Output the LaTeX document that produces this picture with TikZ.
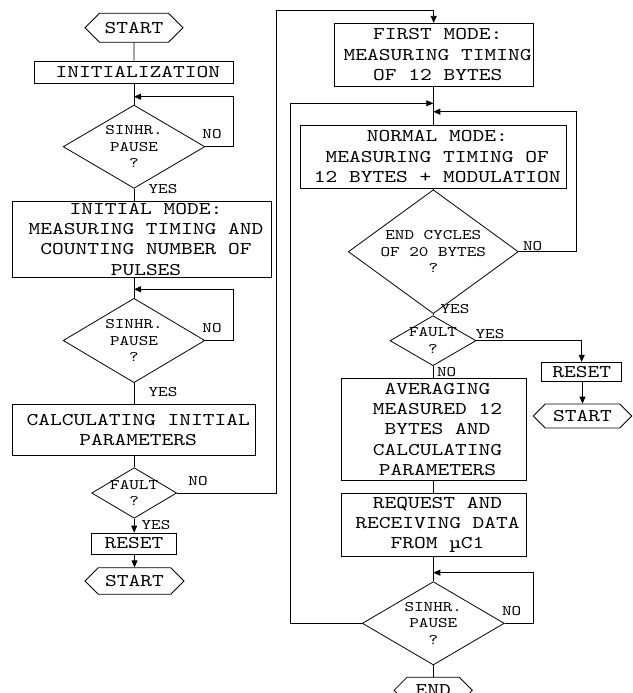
\documentclass[tikz,border=0pt]{standalone}
\usepackage{fontspec}
\newfontfamily\courf[FakeStretch=1.25]{lmmono10-regular.otf}
\usetikzlibrary{shapes.geometric,shapes.symbols,arrows.meta}
\newcommand\bigtxt{\courf\fontsize{17.9}{20.3}\selectfont}
\newcommand\smtxt{\courf\fontsize{14.6}{16.7}\selectfont}
\newcommand\lsp{\hspace*{8pt}}
\begin{document}
\begin{tikzpicture}[x=1pt,y=-1pt, line width=0.8pt,
  box/.style={draw, rectangle, inner xsep=0pt, inner ysep=-4pt, align=center, font=\bigtxt},
  term/.style={draw, signal, signal to=east and west, signal pointer angle=90, inner sep=0pt, font=\bigtxt},
  dec/.style={draw, diamond, inner sep=-6pt, align=center, font=\smtxt},
  lbl/.style={inner sep=0pt, font=\smtxt},
  arr/.style={-{Triangle[length=7pt,width=6pt]}}]
\useasboundingbox (0,0) rectangle (632,693);
% left column
\node[term, minimum width=98, minimum height=29] (s1) at (134,27.7) {START};
\node[box, minimum width=199, minimum height=22.3] (init) at (133.8,72.2) {\lsp INITIALIZATION};
\node[dec, minimum width=141.7, minimum height=83.3] (d1) at (134,146.7) {SINHR.\\PAUSE\\?};
\node[box, minimum width=259.4, minimum height=76.3] (im) at (142,239.2) {\lsp INITIAL MODE:\\\lsp MEASURING TIMING AND\\\lsp COUNTING NUMBER OF\\\lsp PULSES};
\node[dec, minimum width=141.7, minimum height=84.4] (d2) at (134,340.5) {SINHR.\\PAUSE\\?};
\node[box, minimum width=243, minimum height=50.7] (calc) at (134.2,429.7) {\lsp CALCULATING INITIAL\\\lsp PARAMETERS};
\node[dec, minimum width=85, minimum height=50.6] (f1) at (134.2,493) {FAULT\\?};
\node[box, minimum width=85.4, minimum height=21] (r1) at (134,543.5) {RESET};
\node[term, minimum width=99, minimum height=26.5] (s2) at (134.5,581) {START};
% right column
\node[box, minimum width=199.3, minimum height=62.7] (first) at (433.7,54.7) {\lsp FIRST MODE:\\\lsp MEASURING TIMING\\\lsp OF 12 BYTES};
\node[box, minimum width=266.7, minimum height=63.3] (norm) at (433.3,156.7) {\lsp NORMAL MODE:\\\lsp MEASURING TIMING OF\\\lsp 12 BYTES + MODULATION};
\node[dec, minimum width=170, minimum height=100] (d3) at (433.3,251.7) {END CYCLES\\OF 20 BYTES\\?};
\node[dec, minimum width=86, minimum height=50] (f2) at (433,340.7) {FAULT\\?};
\node[box, minimum width=80, minimum height=19] (r2) at (581.7,371.7) {RESET};
\node[term, minimum width=98.4, minimum height=24] (s3) at (582.5,416) {START};
\node[box, minimum width=185, minimum height=102.4] (avg) at (433.5,429.5) {\lsp AVERAGING\\\lsp MEASURED 12\\\lsp BYTES AND\\\lsp CALCULATING\\\lsp PARAMETERS};
\node[box, minimum width=185, minimum height=63.4] (req) at (433.5,525) {\lsp REQUEST AND\\\lsp RECEIVING DATA\\\lsp FROM µC1};
\node[dec, minimum width=142, minimum height=83.3] (d4) at (433.3,623.3) {SINHR.\\PAUSE\\?};
\node[term, minimum width=78.3, minimum height=26] (end) at (433.2,690.3) {END};
% junction points
\coordinate (j1) at (134,96.7);
\coordinate (j2) at (134,289.3);
\coordinate (c1) at (276.7,10);
\coordinate (j3) at (433.3,103.3);
\coordinate (j4) at (433.3,111.7);
\coordinate (j5) at (433.3,572.7);
% connectors left
\draw (s1) -- (s1.south |- init.north);
\draw (init.south -| d1.north) -- (d1.north);
\draw[arr] (d1.east) -- ++(28.3,0) |- (j1);
\draw (d1.south) -- (d1.south |- im.north);
\draw (im.south -| d2.north) -- (d2.north);
\draw[arr] (d2.east) -- ++(28.3,0) |- (j2);
\draw (d2.south) -- (d2.south |- calc.north);
\draw (calc.south -| f1.north) -- (f1.north);
\draw[arr] (f1.south) -- (f1.south |- r1.north);
\draw[arr] (r1.south -| s2.north) -- (s2.north);
\draw[arr] (f1.east) -| (c1) -| (first.north);
% connectors right
\draw (first.south -| norm.north) -- (norm.north);
\draw[arr] (d3.east) -- ++(57.4,0) |- (j4);
\draw[arr] (d4.west) -- ++(-71.3,0) |- (j3);
\draw (norm.south -| d3.north) -- (d3.north);
\draw (d3.south) -- (d3.south |- f2.north);
\draw[arr] (f2.east) -| (r2.north);
\draw[arr] (r2.south -| s3.north) -- (s3.north);
\draw (f2.south) -- (f2.south |- avg.north);
\draw (avg.south -| req.north) -- (req.north);
\draw (req.south -| d4.north) -- (d4.north);
\draw[arr] (d4.east) -- ++(29,0) |- (j5);
\draw (d4.south) -- (d4.south |- end.north);
% labels
\node[lbl] (l1) at (212,134) {NO};
\node[lbl] (l2) at (163,189) {YES};
\node[lbl] (l3) at (212,327.7) {NO};
\node[lbl] (l4) at (163,391.7) {YES};
\node[lbl] (l5) at (198,481) {NO};
\node[lbl] (l6) at (156,525) {YES};
\node[lbl] (l7) at (532.7,246) {NO};
\node[lbl] (l8) at (455,309.3) {YES};
\node[lbl] (l9) at (490,334.3) {YES};
\node[lbl] (l10) at (446.7,372) {NO};
\node[lbl] (l11) at (511.7,611) {NO};
\end{tikzpicture}
\end{document}
